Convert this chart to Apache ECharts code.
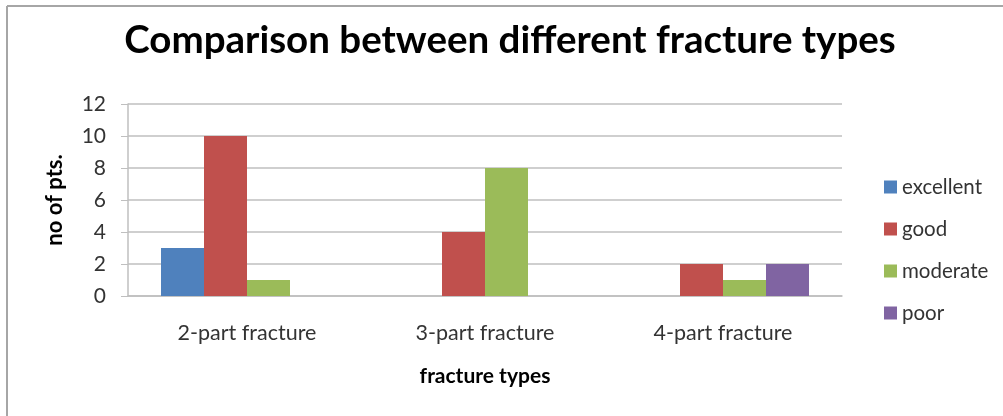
<!DOCTYPE html>
<html>
<head>
<meta charset="utf-8">
<script src="https://cdn.jsdelivr.net/npm/echarts@6/dist/echarts.min.js"></script>
<style>
html,body{margin:0;padding:0;background:#fff;}
#chart{width:1003px;height:416px;}
</style>
</head>
<body>
<div id="chart"></div>
<script>
const categories = ['2-part fracture', '3-part fracture', '4-part fracture'];
const seriesNames = ['excellent', 'good', 'moderate', 'poor'];
const excellent = [3, null, null];
const good = [10, 4, 2];
const moderate = [1, 8, 1];
const poor = [null, null, 2];
const colors = ['#4F81BD', '#C0504D', '#9BBB59', '#8064A2'];
const yTicks = { min: 0, max: 12, interval: 2 };

const valuesList = [excellent, good, moderate, poor];
const font = 'Lato, "Open Sans", sans-serif';

const chart = echarts.init(document.getElementById('chart'));
chart.setOption({
  animation: false,
  backgroundColor: '#fff',
  title: {
    text: 'Comparison between different fracture types',
    left: 505, top: 16, textAlign: 'center',
    textStyle: { fontFamily: font, fontWeight: 'bold', fontSize: 38.5, color: '#000' }
  },
  legend: {
    orient: 'vertical', left: 879, top: 171,
    itemWidth: 13, itemHeight: 13, itemGap: 20, icon: 'rect',
    textStyle: { fontFamily: font, fontSize: 20.5, color: '#333', lineHeight: 22 },
    data: seriesNames
  },
  grid: { left: 128, right: 161, top: 104, bottom: 120 },
  xAxis: {
    type: 'category', data: categories,
    name: 'fracture types', nameLocation: 'middle', nameGap: 70,
    nameTextStyle: { fontFamily: font, fontWeight: 'bold', fontSize: 21, color: '#000' },
    axisLine: { lineStyle: { color: '#bfbfbf', width: 1.5 } },
    axisTick: { show: false },
    axisLabel: { fontFamily: font, fontSize: 21.5, color: '#333', margin: 26 }
  },
  yAxis: {
    type: 'value', min: yTicks.min, max: yTicks.max, interval: yTicks.interval,
    name: 'no of pts.', nameLocation: 'middle', nameGap: 62, nameRotate: 90,
    nameTextStyle: { fontFamily: font, fontWeight: 'bold', fontSize: 22, color: '#000' },
    axisLine: { show: true, lineStyle: { color: '#bfbfbf', width: 1.5 } },
    axisTick: { show: true, length: 7, lineStyle: { color: '#bfbfbf' } },
    splitLine: { lineStyle: { color: '#bfbfbf', width: 1.5 } },
    axisLabel: { fontFamily: font, fontSize: 21, color: '#333', margin: 22 }
  },
  graphic: [
    { type: 'line', shape: { x1: 7, y1: 6, x2: 1003, y2: 6 }, style: { stroke: '#a6a6a6', lineWidth: 2 } },
    { type: 'line', shape: { x1: 7, y1: 6, x2: 7, y2: 416 }, style: { stroke: '#a6a6a6', lineWidth: 2 } }
  ],
  series: seriesNames.map((n, i) => ({
    name: n, type: 'bar', data: valuesList[i],
    barWidth: 43, barGap: '0%',
    itemStyle: { color: colors[i] }
  }))
});
</script>
</body>
</html>
